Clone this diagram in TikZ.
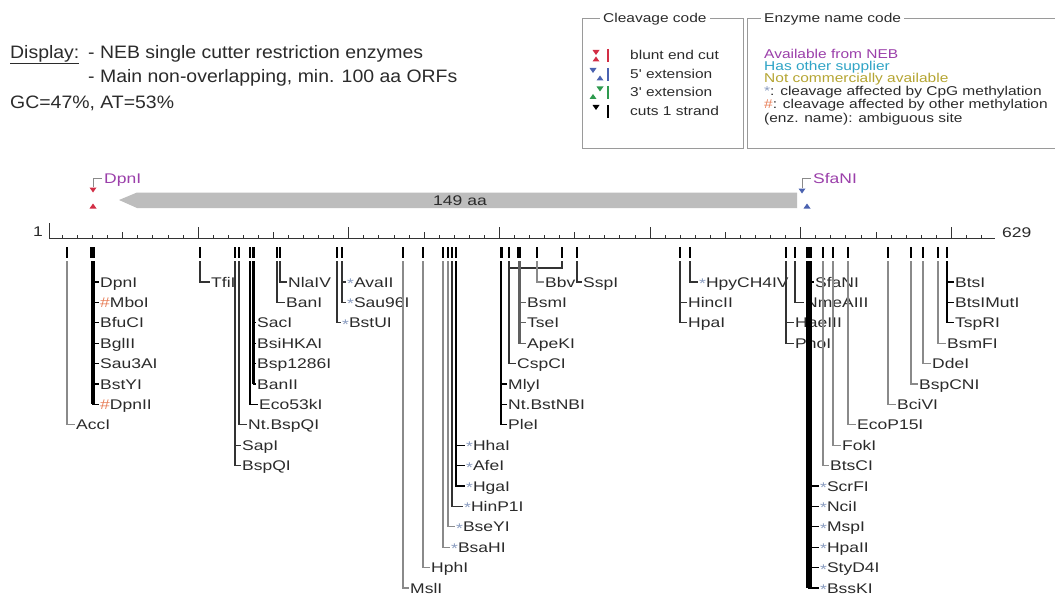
\documentclass[tikz,border=0pt]{standalone}
\usepackage{fontspec}
\newfontfamily\labf{Liberation Sans}[FakeStretch=1.25]
\newfontfamily\legf{Liberation Sans}[FakeStretch=1.21]
\newfontfamily\hdrf{Liberation Sans}[FakeStretch=1.08]
\definecolor{txt}{HTML}{2B2B2B}
\definecolor{linegray}{HTML}{8A8A8A}
\definecolor{dk}{HTML}{333333}
\definecolor{midg}{HTML}{606060}
\definecolor{nebp}{HTML}{9B3FAA}
\definecolor{othc}{HTML}{2FA4C6}
\definecolor{ncom}{HTML}{B5A532}
\definecolor{starc}{HTML}{8A9CC0}
\definecolor{hashc}{HTML}{E8805A}
\definecolor{bluntc}{HTML}{D22E45}
\definecolor{fivec}{HTML}{4A62B0}
\definecolor{threec}{HTML}{2E9A4E}
\definecolor{orfc}{HTML}{BDBDBD}
\definecolor{framec}{HTML}{9A9A9A}
\newcommand\stx{\textcolor{starc}{\raisebox{-1.5pt}{*}}}
\newcommand\hsx{\textcolor{hashc}{\#}}
\newcommand\ry[1]{282+20.4*#1}
\newcommand\enz[6]{%
  \node[lab] (#1) at (#3,{\ry{#4}}) {#6};
  \draw[conn,#5] (#2,261) |- ([xshift=-1.5pt]#1.west);
}
\newcommand\tdn[3]{\fill[#3] (#1-3.5,#2-2.5) -- (#1+3.5,#2-2.5) -- (#1,#2+2.5) -- cycle;}
\newcommand\tup[3]{\fill[#3] (#1-3.5,#2+2.5) -- (#1+3.5,#2+2.5) -- (#1,#2-2.5) -- cycle;}
\begin{document}
\begin{tikzpicture}[x=1pt,y=-1pt,
  lab/.style={anchor=west,inner sep=0pt,text height=10pt,text depth=0pt,font=\labf\fontsize{14}{16}\selectfont,text=txt},
  leg/.style={anchor=west,inner sep=0pt,text height=9pt,text depth=0pt,font=\legf\fontsize{12.8}{14}\selectfont,text=txt},
  hdr/.style={anchor=west,inner sep=0pt,text height=13pt,text depth=0pt,font=\hdrf\fontsize{18}{20}\selectfont,text=txt},
  conn/.style={line width=1.1pt},
  rul/.style={line width=0.9pt,draw=dk}]
\fill[white] (0,0) rectangle (1055,599);
\useasboundingbox (0,0) rectangle (1055,599);

% header
\node[hdr] (disp) at (10,52) {\underline{Display:}};
\node[hdr] (hl1) at (88,52) {- NEB single cutter restriction enzymes};
\node[hdr] (hl2) at (88,76) {- Main non-overlapping, min. 100 aa ORFs};
\node[hdr] (gc) at (10,102) {GC=47\%, AT=53\%};

% legend boxes
\draw[framec,line width=0.8pt] (582,18) rectangle (743,148);
\node[leg,fill=white,inner xsep=3pt] (cct) at (600,18) {Cleavage code};
\draw[framec,line width=0.8pt] (1056,18) -- (747,18) -- (747,148) -- (1056,148);
\node[leg,fill=white,inner xsep=3pt] (ect) at (761,18) {Enzyme name code};

\tdn{596}{52.5}{bluntc}\tup{596}{59}{bluntc}
\draw[bluntc,line width=1.8pt] (608,49) -- (608,62);
\node[leg] (lb1) at (630,55) {blunt end cut};
\tdn{593}{70.5}{fivec}\tup{600}{78}{fivec}
\draw[fivec,line width=1.8pt] (608,68) -- (608,81);
\node[leg] (lb2) at (630,74) {5' extension};
\tup{593}{96.5}{threec}\tdn{600}{89}{threec}
\draw[threec,line width=1.8pt] (608,86) -- (608,99);
\node[leg] (lb3) at (630,92) {3' extension};
\tdn{596}{107.5}{black}
\draw[black,line width=1.8pt] (608,105) -- (608,118);
\node[leg] (lb4) at (630,111) {cuts 1 strand};

\node[leg,text=nebp] (ec1) at (764,54) {Available from NEB};
\node[leg,text=othc] (ec2) at (764,66) {Has other supplier};
\node[leg,text=ncom] (ec3) at (764,78) {Not commercially available};
\node[leg] (ec4) at (764,91) {\textcolor{starc}{*}: cleavage affected by CpG methylation};
\node[leg] (ec5) at (764,104) {\textcolor{hashc}{\#}: cleavage affected by other methylation};
\node[leg] (ec6) at (764,118) {(enz. name): ambiguous site};

% ORF arrow
\fill[orfc] (119,200) -- (137,192.5) -- (797,192.5) -- (797,208) -- (137,208) -- cycle;
\node[lab,anchor=center] (orf) at (460,200) {149 aa};

% top markers
\tdn{93}{190}{bluntc}\tup{93}{206}{bluntc}
\node[lab,text=nebp] (DpnItop) at (104,178) {DpnI};
\draw[linegray,line width=0.8pt] (93,187) |- ([xshift=-2pt]DpnItop.west);
\tdn{802}{191}{fivec}\tup{807}{206}{fivec}
\node[lab,text=nebp] (SfaNItop) at (813,178) {SfaNI};
\draw[linegray,line width=0.8pt] (802,188) |- ([xshift=-2pt]SfaNItop.west);

% ruler
\draw[rul] (49,223) -- (49,238) -- (995,238);
\foreach \b in {10,20,...,620} {\draw[rul] ({49+(\b-1)*1.5064},238) -- ++(0,-3);}
\foreach \b in {50,150,...,550} {\draw[rul] ({49+(\b-1)*1.5064},238) -- ++(0,-6);}
\foreach \b in {100,200,...,600} {\draw[rul] ({49+(\b-1)*1.5064},238) -- ++(0,-11);}
\node[lab,anchor=east] (one) at (43,231.5) {1};
\node[lab] (end) at (1002,232) {629};

% site ticks
\foreach \x/\w in {67/1.5,92.5/5,200/1.5,235/1.5,239/1.5,250/1.8,253.5/2.8,277/1.5,280/1.5,337/1.5,342/1.5,403/1.5,423/1.5,443/1.5,448/1.5,452/1.5,456/2.5,501/3,509/1.5,519/3.5,537/1.5,562/1.5,577/1.5,680/1.5,690/1.5,786/1.5,795/1.5,808.5/6,823/1.5,833/1.5,848/1.5,888/1.5,911/1.5,923/1.5,938/1.5,947/2.2}
  {\draw[line width=\w pt,black] (\x,247) -- (\x,258);}

% labels and connectors
\enz{AccI}{67}{76}{7}{linegray}{AccI}
\enz{DpnI}{92.5}{100}{0}{black}{DpnI}
\enz{MboI}{92.5}{100}{1}{black}{\hsx MboI}
\enz{BfuCI}{92.5}{100}{2}{black}{BfuCI}
\enz{BglII}{92.5}{100}{3}{black}{BglII}
\enz{Sau3AI}{92.5}{100}{4}{black}{Sau3AI}
\enz{BstYI}{92.5}{100}{5}{black}{BstYI}
\enz{DpnII}{92.5}{100}{6}{black}{\hsx DpnII}
\enz{TfiI}{200}{211}{0}{dk}{TfiI}
\enz{SacI}{253.5}{257}{2}{black}{SacI}
\enz{BsiHKAI}{253.5}{257}{3}{black}{BsiHKAI}
\enz{Bsp1286I}{253.5}{257}{4}{black}{Bsp1286I}
\enz{BanII}{253.5}{257}{5}{black}{BanII}
\enz{Eco53kI}{250}{259}{6}{black}{Eco53kI}
\enz{NtBspQI}{239}{248}{7}{dk}{Nt.BspQI}
\enz{SapI}{235}{242}{8}{dk}{SapI}
\enz{BspQI}{235}{242}{9}{dk}{BspQI}
\enz{NlaIV}{280}{288}{0}{dk}{NlaIV}
\enz{BanI}{277}{286}{1}{dk}{BanI}
\enz{AvaII}{342}{347}{0}{dk}{\stx AvaII}
\enz{Sau96I}{342}{347}{1}{dk}{\stx Sau96I}
\enz{BstUI}{337}{342}{2}{dk}{\stx BstUI}
\enz{MslI}{403}{410}{15}{linegray}{MslI}
\enz{HphI}{423}{431}{14}{linegray}{HphI}
\enz{BsaHI}{443}{451}{13}{linegray}{\stx BsaHI}
\enz{BseYI}{448}{456}{12}{linegray}{\stx BseYI}
\enz{HinPlI}{452}{464}{11}{dk}{\stx HinP1I}
\enz{HgaI}{456}{466}{10}{black}{\stx HgaI}
\enz{AfeI}{456}{466}{9}{black}{\stx AfeI}
\enz{HhaI}{456}{466}{8}{black}{\stx HhaI}
\enz{MlyI}{501}{508}{5}{black}{MlyI}
\enz{NtBstNBI}{501}{508}{6}{black}{Nt.BstNBI}
\enz{PleI}{501}{508}{7}{black}{PleI}
\enz{CspCI}{509}{517}{4}{dk}{CspCI}
\coordinate (csp2) at (562,261);
\draw[conn,dk] (csp2) -- (562,268) -- (509,268);
\enz{BsmI}{519}{527}{1}{midg}{BsmI}
\enz{TseI}{519}{527}{2}{midg}{TseI}
\enz{ApeKI}{519}{527}{3}{midg}{ApeKI}
\enz{BbvCI}{537}{545}{0}{linegray}{Bbv}
\enz{SspI}{577}{583}{0}{dk}{SspI}
\enz{HincII}{680}{688}{1}{dk}{HincII}
\enz{HpaI}{680}{688}{2}{dk}{HpaI}
\enz{HpyCHIV}{690}{699}{0}{dk}{\stx HpyCH4IV}
\enz{HaeIII}{786}{795}{2}{dk}{HaeIII}
\enz{PhoI}{786}{795}{3}{dk}{PhoI}
\enz{NmeAIII}{795}{805}{1}{dk}{NmeAIII}
\enz{SfaNI}{808.5}{815}{0}{black}{SfaNI}
\enz{ScrFI}{808.5}{820}{10}{black}{\stx ScrFI}
\enz{NciI}{808.5}{820}{11}{black}{\stx NciI}
\enz{MspI}{808.5}{820}{12}{black}{\stx MspI}
\enz{HpaII}{808.5}{820}{13}{black}{\stx HpaII}
\enz{StyDIV}{808.5}{820}{14}{black}{\stx StyD4I}
\enz{BssKI}{808.5}{820}{15}{black}{\stx BssKI}
\enz{BtsCI}{823}{830}{9}{linegray}{BtsCI}
\enz{FokI}{833}{842}{8}{linegray}{FokI}
\enz{EcoPI}{848}{857}{7}{linegray}{EcoP15I}
\enz{BciVI}{888}{897}{6}{linegray}{BciVI}
\enz{BspCNI}{911}{919}{5}{linegray}{BspCNI}
\enz{DdeI}{923}{932}{4}{linegray}{DdeI}
\enz{BsmFI}{938}{947}{3}{linegray}{BsmFI}
\enz{BtsI}{947}{955}{0}{black}{BtsI}
\enz{BtsIMutI}{947}{955}{1}{black}{BtsIMutI}
\enz{TspRI}{947}{955}{2}{black}{TspRI}

% thick group lines
\draw[line width=4pt,black] (92.5,261) -- (92.5,{\ry{6}});
\draw[line width=2.3pt,black] (253.5,261) -- (253.5,{\ry{5}});
\draw[line width=2.3pt,black] (456,261) -- (456,{\ry{10}});
\draw[line width=2.6pt,black] (501,261) -- (501,{\ry{7}});
\draw[line width=3pt,midg] (519,261) -- (519,{\ry{3}});
\draw[line width=6pt,black] (808.5,261) -- (808.5,{\ry{15}});
\draw[line width=2pt,black] (947,261) -- (947,{\ry{2}});
\end{tikzpicture}
\end{document}
